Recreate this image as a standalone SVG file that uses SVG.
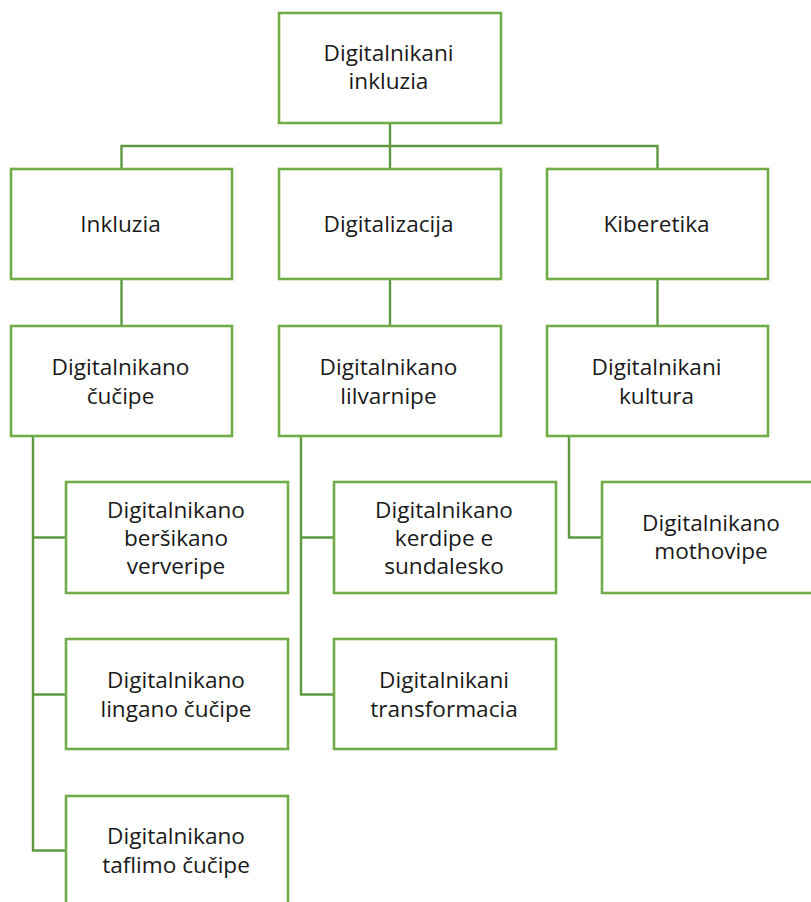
<svg xmlns="http://www.w3.org/2000/svg" width="811" height="902" viewBox="0 0 811 902">
<style>
.box{fill:#ffffff;stroke:#70AD47;stroke-width:2.6}
.con{fill:none;stroke:#5E9940;stroke-width:2.4}
text{font-family:"Open Sans","Noto Sans","Liberation Sans",sans-serif;font-size:22.6px;fill:#1a1a1a;text-anchor:middle}
</style>
<rect width="811" height="902" fill="#ffffff"/>
<g id="connectors">
<path class="con" d="M390 123V146M121.5 169V146H657.5V169M390 146V169"/>
<path class="con" d="M121.5 279V326M390 279V326M657.5 279V326"/>
<path class="con" d="M33 436V850.5H66M33 537.5H66M33 694.5H66"/>
<path class="con" d="M301 436V694.5H334M301 537.5H334"/>
<path class="con" d="M569 436V537.5H602"/>
</g>
<g id="n-root"><rect class="box" x="279" y="13" width="222" height="110"/><text x="388.5" y="60.5">Digitalnikani</text><text x="388.5" y="89">inkluzia</text></g>
<g id="n-inkluzia"><rect class="box" x="11" y="169" width="221" height="110"/><text x="120.5" y="232">Inkluzia</text></g>
<g id="n-digitalizacija"><rect class="box" x="279" y="169" width="222" height="110"/><text x="388.5" y="232">Digitalizacija</text></g>
<g id="n-kiberetika"><rect class="box" x="547" y="169" width="221" height="110"/><text x="656.5" y="232">Kiberetika</text></g>
<g id="n-cucipe"><rect class="box" x="11" y="326" width="221" height="110"/><text x="120.5" y="375">Digitalnikano</text><text x="120.5" y="403.5">čučipe</text></g>
<g id="n-lilvarnipe"><rect class="box" x="279" y="326" width="222" height="110"/><text x="388.5" y="375">Digitalnikano</text><text x="388.5" y="403.5">lilvarnipe</text></g>
<g id="n-kultura"><rect class="box" x="547" y="326" width="221" height="110"/><text x="656.5" y="375">Digitalnikani</text><text x="656.5" y="403.5">kultura</text></g>
<g id="n-versikano"><rect class="box" x="66" y="482" width="222" height="111"/><text x="176" y="517.5">Digitalnikano</text><text x="176" y="545.5">beršikano</text><text x="176" y="573.5">ververipe</text></g>
<g id="n-kerdipe"><rect class="box" x="334" y="482" width="222" height="111"/><text x="444" y="517.5">Digitalnikano</text><text x="444" y="545.5">kerdipe e</text><text x="444" y="573.5">sundalesko</text></g>
<g id="n-mothovipe"><rect class="box" x="602" y="482" width="222" height="111"/><text x="711" y="530.5">Digitalnikano</text><text x="711" y="559">mothovipe</text></g>
<g id="n-lingano"><rect class="box" x="66" y="639" width="222" height="110"/><text x="176" y="688">Digitalnikano</text><text x="176" y="716.5">lingano čučipe</text></g>
<g id="n-transformacia"><rect class="box" x="334" y="639" width="222" height="110"/><text x="444" y="688">Digitalnikani</text><text x="444" y="716.5">transformacia</text></g>
<g id="n-taflimo"><rect class="box" x="66" y="796" width="222" height="110"/><text x="176" y="844">Digitalnikano</text><text x="176" y="872.5">taflimo čučipe</text></g>
</svg>
